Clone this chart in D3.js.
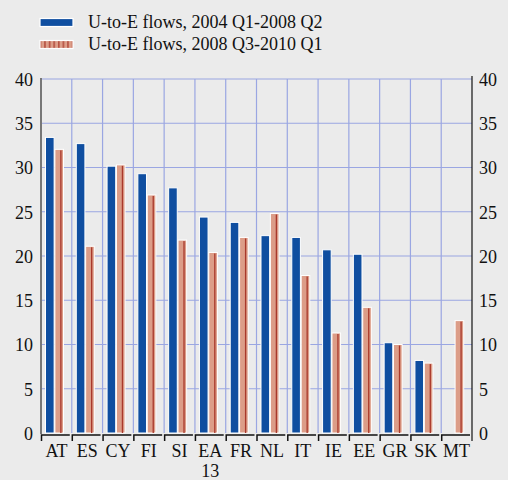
<!DOCTYPE html>
<meta charset="utf-8">
<style>
body { margin: 0; background: #ebebeb; }
svg { display: block; }
text { font-family: "Liberation Serif", "Times New Roman", serif; fill: #111; }
.grid line { stroke: #9aa6e2; stroke-width: 1.2px; }
</style>
<body>
<svg width="508" height="480"></svg>
<script src="https://d3js.org/d3.v7.min.js"></script>
<script>
// categories and the two series
var countries = ["AT", "ES", "CY", "FI", "SI", "EA 13", "FR", "NL", "IT", "IE", "EE", "GR", "SK", "MT"];
var before = [33.4, 32.7, 30.15, 29.3, 27.7, 24.4, 23.8, 22.3, 22.1, 20.7, 20.2, 10.2, 8.2, null];
var after  = [32.05, 21.1, 30.3, 26.9, 21.8, 20.4, 22.1, 24.8, 17.8, 11.3, 14.2, 10.0, 7.9, 12.7];
var seriesNames = ["U-to-E flows, 2004 Q1-2008 Q2", "U-to-E flows, 2008 Q3-2010 Q1"];
var yTicks = [0, 5, 10, 15, 20, 25, 30, 35, 40];

var blue = "#0f4ea0",
    salmon = "#dc9d88",
    stripe = "#a9382b";

var svg = d3.select("svg"),
    pLeft = 41, pRight = 472, pTop = 79, pBottom = 433;

var x = d3.scaleBand().domain(countries).range([pLeft, pRight]);
var xs = d3.scaleBand().domain([0, 1]).range([4.5, 22.5]).paddingInner(0.08);
var y = d3.scaleLinear().domain([0, 40]).range([pBottom, pTop]);

// stripe pattern for the legend swatch
var defs = svg.append("defs");
var pat = defs.append("pattern")
    .attr("id", "stripes")
    .attr("patternUnits", "userSpaceOnUse")
    .attr("width", 4.6).attr("height", 10);
pat.append("rect").attr("width", 4.6).attr("height", 10).attr("fill", salmon);
pat.append("rect").attr("x", 3).attr("width", 1.2).attr("height", 10).attr("fill", stripe);

// grid
var grid = svg.append("g").attr("class", "grid");
grid.selectAll(".h").data(yTicks.slice(1)).enter().append("line")
    .attr("x1", pLeft).attr("x2", pRight)
    .attr("y1", function(d) { return y(d); })
    .attr("y2", function(d) { return y(d); });
grid.selectAll(".v").data(countries.slice(1)).enter().append("line")
    .attr("x1", function(d) { return x(d); })
    .attr("x2", function(d) { return x(d); })
    .attr("y1", pTop).attr("y2", pBottom);

// bars
var groups = svg.selectAll(".cat").data(countries).enter().append("g")
    .attr("transform", function(d) { return "translate(" + x(d) + ",0)"; });

groups.each(function(c, i) {
  var g = d3.select(this);
  if (before[i] != null) {
    g.append("rect")
      .attr("x", xs(0)).attr("width", xs.bandwidth())
      .attr("y", y(before[i])).attr("height", y(0) - y(before[i]))
      .attr("fill", blue).attr("stroke", "#fff").attr("stroke-width", 1);
  }
  if (after[i] != null) {
    g.append("rect")
      .attr("x", xs(1)).attr("width", xs.bandwidth())
      .attr("y", y(after[i])).attr("height", y(0) - y(after[i]))
      .attr("fill", salmon).attr("stroke", "#fff").attr("stroke-width", 1);
    g.append("rect")
      .attr("x", xs(1) + xs.bandwidth() * 0.62).attr("width", 1.3)
      .attr("y", y(after[i]) + 1).attr("height", y(0) - y(after[i]) - 1)
      .attr("fill", stripe);
  }
});

// axes
svg.append("line")
    .attr("x1", pLeft).attr("x2", pLeft).attr("y1", pTop - 1).attr("y2", pBottom + 1)
    .attr("stroke", "#777").attr("stroke-width", 2);
svg.append("line")
    .attr("x1", pRight).attr("x2", pRight).attr("y1", pTop - 3).attr("y2", pBottom + 8)
    .attr("stroke", "#111").attr("stroke-width", 1.2);

svg.append("g")
    .attr("transform", "translate(" + (pLeft - 8) + ",0)")
    .call(d3.axisLeft(y).tickValues(yTicks).tickSize(0).tickPadding(0))
    .call(function(g) { g.select(".domain").remove(); })
    .selectAll("text").style("font-size", "18px").attr("fill", "#111")
    .style("font-family", "'Liberation Serif', serif").attr("dy", "0.35em");

svg.append("g")
    .attr("transform", "translate(" + (pRight + 7) + ",0)")
    .call(d3.axisRight(y).tickValues(yTicks).tickSize(0).tickPadding(0))
    .call(function(g) { g.select(".domain").remove(); })
    .selectAll("text").style("font-size", "18px").attr("fill", "#111")
    .style("font-family", "'Liberation Serif', serif").attr("dy", "0.35em");

// bracket-style category axis
var xa = svg.append("g");
countries.forEach(function(c) {
  var b = x(c);
  xa.append("path")
    .attr("d", "M" + (b + 0.5) + "," + (pBottom + 8) + "V" + (pBottom + 2) + "H" + (b + x.bandwidth() - 2))
    .attr("fill", "none").attr("stroke", "#111").attr("stroke-width", 1.5);
});

xa.selectAll(".lab").data(countries).enter().append("text")
    .attr("x", function(d) { return x(d) + x.bandwidth() / 2; })
    .attr("y", pBottom + 24)
    .attr("text-anchor", "middle")
    .style("font-size", "18px")
    .each(function(d) {
      var parts = d.split(" ");
      var t = d3.select(this);
      parts.forEach(function(p, k) {
        t.append("tspan")
          .attr("x", x(d) + x.bandwidth() / 2)
          .attr("dy", k ? 20 : 0)
          .text(p);
      });
    });

// legend
var leg = svg.append("g");
leg.append("rect").attr("x", 40).attr("y", 18.5).attr("width", 33).attr("height", 8)
    .attr("fill", blue).attr("stroke", "#fff").attr("stroke-width", 1.2);
leg.append("rect").attr("x", 40).attr("y", 40.5).attr("width", 33).attr("height", 8)
    .attr("fill", "url(#stripes)").attr("stroke", "#fff").attr("stroke-width", 1.2);
leg.selectAll("text").data(seriesNames).enter().append("text")
    .attr("x", 88)
    .attr("y", function(d, i) { return 28 + i * 22; })
    .style("font-size", "18px")
    .text(function(d) { return d; });
</script>
</body>
